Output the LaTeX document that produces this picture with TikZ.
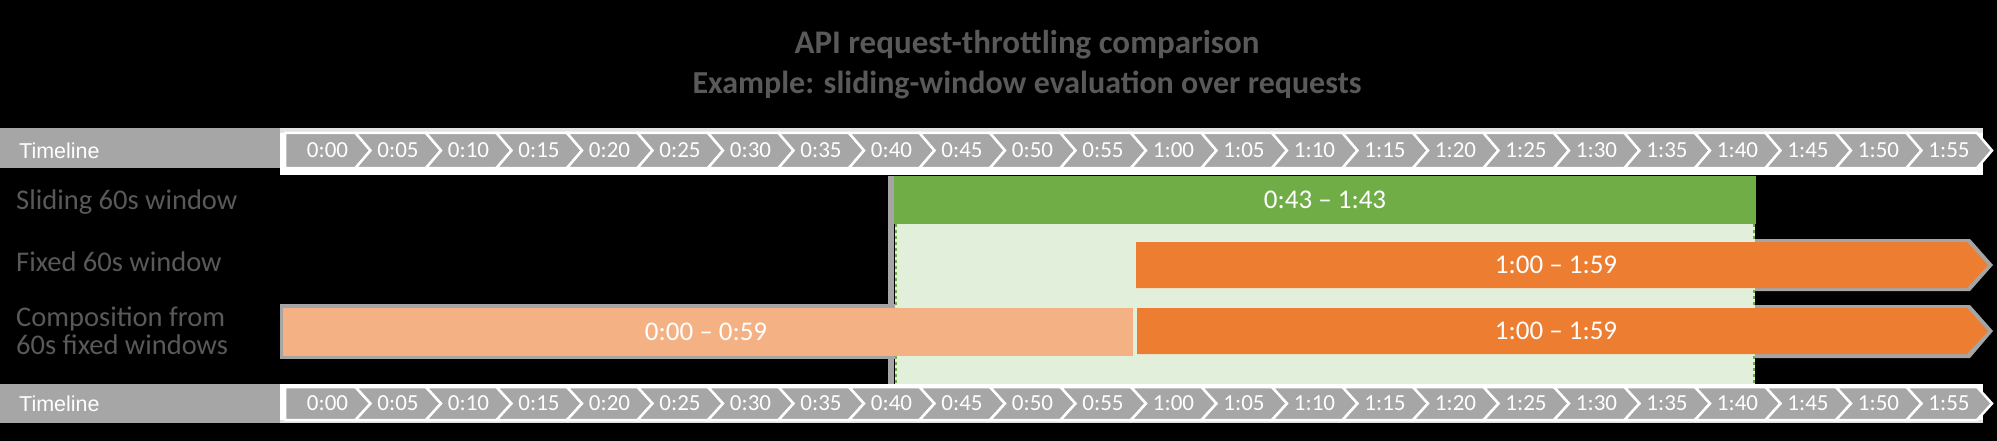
\documentclass[tikz,border=0pt]{standalone}
\usepackage{fontspec}
\setmainfont{Carlito}
\newfontfamily\arialf{Liberation Sans}
\definecolor{tgray}{HTML}{A6A6A6}
\definecolor{dgray}{HTML}{595959}
\definecolor{gr}{HTML}{70AD47}
\definecolor{lgr}{HTML}{E2EFDA}
\definecolor{org}{HTML}{ED7D31}
\definecolor{lorg}{HTML}{F4B183}
\definecolor{shd}{HTML}{A5A5A5}
\definecolor{frm}{HTML}{E2E2E2}
\tikzset{
  chev/.style={fill=tgray, draw=white, line width=2.5pt, line join=miter},
  chevtext/.style={text=white, font=\fontsize{23}{23}\selectfont, inner sep=0pt},
  tltext/.style={text=white, font=\arialf\fontsize{21.5}{21.5}\selectfont, anchor=west, inner sep=0pt},
  bartext/.style={text=white, font=\fontsize{27}{27}\selectfont, inner sep=0pt},
  rowlabel/.style={text=dgray, font=\fontsize{28.5}{28}\selectfont, anchor=west, align=left, inner sep=0pt},
  titletext/.style={text=dgray, font=\fontsize{33}{33}\selectfont\bfseries, inner sep=0pt}
}
\newcommand\drawtimeline[7]{%
  \fill[tgray] (0,#1) rectangle (283,#2);
  \fill[white] (280,#1) rectangle (1983,#3);
  \ifnum#7=1 \fill[frm] (280,#1) rectangle (1983,#4);\else \fill[frm] (280,#5) rectangle (1983,#3);\fi
  \node[tltext] (#6lab) at (19,{(#4+#5)/2}) {Timeline};
  \foreach \t [count=\k from 0] in {0:00,0:05,0:10,0:15,0:20,0:25,0:30,0:35,0:40,0:45,0:50,0:55,1:00,1:05,1:10,1:15,1:20,1:25,1:30,1:35,1:40,1:45,1:50,1:55}{
    \pgfmathsetmacro\xa{285+70.5*\k}
    \pgfmathsetmacro\xb{285+70.5*(\k+1)}
    \pgfmathsetmacro\ym{(#4+#5)/2}
    \ifnum\k=0
      \draw[chev] (\xa,#4) -- (\xb,#4) -- (\xb+15,\ym) -- (\xb,#5) -- (\xa,#5) -- cycle;
    \else
      \draw[chev] (\xa,#4) -- (\xb,#4) -- (\xb+15,\ym) -- (\xb,#5) -- (\xa,#5) -- (\xa+15,\ym) -- cycle;
    \fi
    \node[chevtext] (#6c\k) at (\xa+42.5,\ym) {\t};
  }
}
\begin{document}
\begin{tikzpicture}[x=1pt,y=-1pt]
\fill[black] (0,0) rectangle (1997,441);
\useasboundingbox (0,0) rectangle (1997,441);

% title
\node[titletext] (title1) at (1027,45) {API request-throttling comparison};
\node[titletext, font=\fontsize{32}{32}\selectfont\bfseries] (title2) at (1027,85) {Example: sliding-window evaluation over requests};

% timelines
\drawtimeline{128}{168}{175}{133}{168}{top}{1}
\drawtimeline{384}{423}{423}{387}{420}{bot}{0}

% row labels
\node[rowlabel] (lab1) at (16,202) {Sliding 60s window};
\node[rowlabel] (lab2) at (16,262) {Fixed 60s window};
\node[rowlabel] (lab3) at (16,331) {Composition from\\60s fixed windows};

% shadows / backings
\fill[shd] (888,176) rectangle (894,384);
\fill[shd] (1133,239) -- (1970,239) -- (1993,265) -- (1970,291) -- (1133,291) -- cycle;
\fill[shd] (1133,305) -- (1970,305) -- (1993,331) -- (1970,358) -- (1133,358) -- cycle;
\fill[shd] (280,304) rectangle (1136,359);

% light green window area
\fill[lgr] (895,224) rectangle (1755,384);
\draw[gr, dashed, line width=1.5pt] (896,224) -- (896,384);
\draw[gr, dashed, line width=1.5pt] (1754,224) -- (1754,384);

% sliding window bar
\fill[gr] (894,176) rectangle (1756,224);
\node[bartext] (slide) at (1325,200) {0:43 – 1:43};

% fixed window bar
\fill[org] (1136,242) -- (1967,242) -- (1988,265) -- (1967,288) -- (1136,288) -- cycle;
\node[bartext] (fixed) at (1556,265) {1:00 – 1:59};

% composition bars
\fill[lorg] (283,308) rectangle (1133,356);
\node[bartext] (comp1) at (706,332) {0:00 – 0:59};
\fill[org] (1137,308) -- (1967,308) -- (1988,331) -- (1967,354) -- (1137,354) -- cycle;
\node[bartext] (comp2) at (1556,331) {1:00 – 1:59};
\end{tikzpicture}
\end{document}
